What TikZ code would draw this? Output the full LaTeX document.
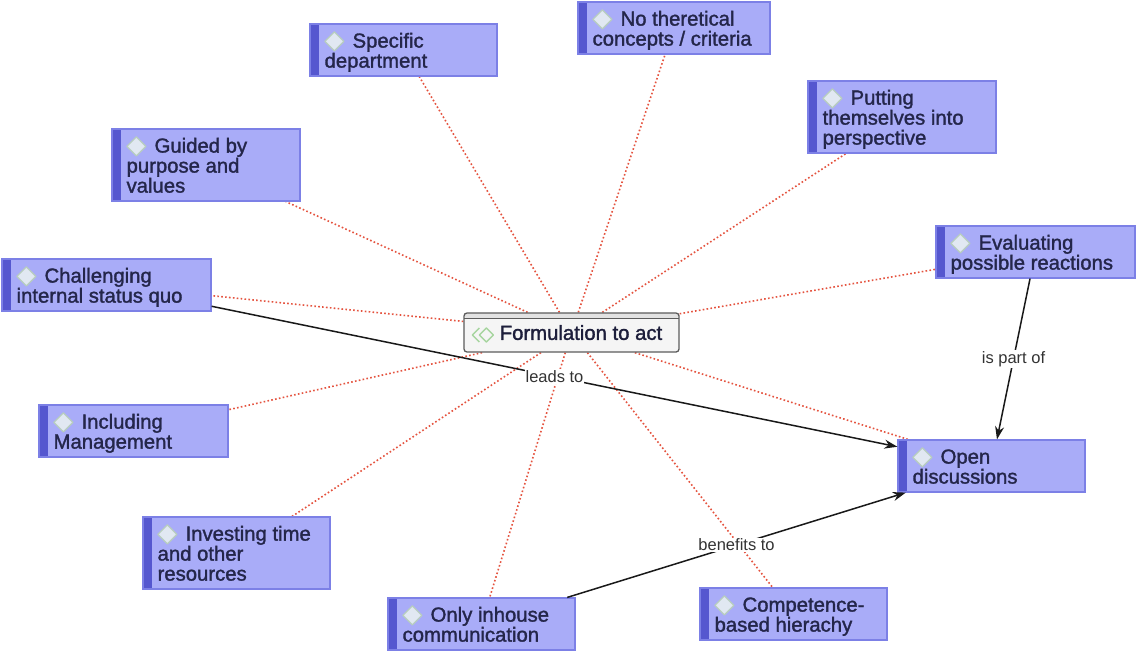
\documentclass[tikz,border=0pt]{standalone}
\usepackage{fontspec}
\setmainfont{Liberation Sans}
\newfontfamily\boxfont{Liberation Sans}[FakeBold=1.5]
\usetikzlibrary{arrows.meta,backgrounds}

\definecolor{boxfill}{HTML}{A9ACF8}
\definecolor{boxline}{HTML}{7C80E6}
\definecolor{boxstrip}{HTML}{5557CF}
\definecolor{boxtext}{HTML}{24264A}
\definecolor{dotred}{HTML}{E5533F}
\definecolor{iconfill}{HTML}{E1E8F2}
\definecolor{iconline}{HTML}{B7CDBF}
\definecolor{headfill}{HTML}{F5F5F5}
\definecolor{headbar}{HTML}{E2E2E2}
\definecolor{headline}{HTML}{5C5C5C}
\definecolor{chevron}{HTML}{A7D59F}
\definecolor{linkgray}{HTML}{333333}

\tikzset{
  concept/.style={draw=boxline, fill=boxfill, line width=1.2pt, inner sep=0pt,
    path picture={
      \fill[boxstrip] (path picture bounding box.north west)
        rectangle ([xshift=9pt]path picture bounding box.south west);
    }},
  conceptmark/.style={draw=iconline, fill=iconfill, line width=1.2pt, line join=round},
  conceptlabel/.style={font=\boxfont\fontsize{20.3}{20}\selectfont, text=boxtext,
    align=left, inner sep=0pt},
  header/.style={draw=headline, fill=headfill, line width=1.3pt, rounded corners=3pt,
    minimum width=215pt, minimum height=39pt, inner sep=0pt, text depth=0pt,
    font=\boxfont\fontsize{20.3}{20}\selectfont, text=boxtext!80!black,
    path picture={
      \fill[headbar] (path picture bounding box.north west)
        rectangle ([yshift=-5pt]path picture bounding box.north east);
      \draw[headline, line width=1pt] ([yshift=-5pt]path picture bounding box.north west)
        -- ([yshift=-5pt]path picture bounding box.north east);
    }},
  headmark/.style={draw=chevron, line width=1.5pt, line join=round},
  relation/.style={draw=dotred, line width=1.6pt, dash pattern=on 1.6pt off 2.3pt},
  link/.style={draw=black!90, line width=1.5pt, -{Stealth[length=13pt,width=9pt]}},
  linklabel/.style={fill=white, inner sep=1pt, text=linkgray,
    font=\fontsize{16.5}{18}\selectfont}
}

% concept box: name, centre x, centre y, width, height, text
\newcommand\mkconcept[6]{%
  \node[concept, minimum width=#4pt, minimum height=#5pt] (#1) at (#2,#3) {};
  \coordinate (#1-mark) at ([xshift=25pt,yshift=-18pt]#1.north west);
  \draw[conceptmark] (#1-mark) +(-9.5,0) -- +(0,-9.5) -- +(9.5,0) -- +(0,9.5) -- cycle;
  \node[conceptlabel, anchor=north west] (#1-text)
    at ([xshift=15pt,yshift=-8pt]#1.north west) {\rule{0pt}{16pt}\hspace*{28pt}#6};
}

\begin{document}
\begin{tikzpicture}[x=1pt,y=-1pt]
\useasboundingbox (0,0) rectangle (1136,653);

% central topic
\node[header] (form) at (571.5,332.5) {\hspace*{19pt}Formulation to act};
\coordinate (form-mark) at ([xshift=23pt,yshift=-2.5pt]form.west);
\draw[headmark] (form-mark) +(-7,0) -- +(0,-7) -- +(7,0) -- +(0,7) -- cycle;
\draw[headmark] (form-mark) +(-7,-7) -- +(-14,0) -- +(-7,7);

\mkconcept{spec}{403.5}{50}{187}{52}{Specific\\department}
\mkconcept{noth}{674}{28}{192}{52}{No theretical\\concepts / criteria}
\mkconcept{putt}{902}{117}{188}{72}{Putting\\themselves into\\perspective}
\mkconcept{guid}{206}{165}{188}{72}{Guided by\\purpose and\\values}
\mkconcept{eval}{1035.5}{252}{199}{52}{Evaluating\\possible reactions}
\mkconcept{chal}{106.5}{285}{209}{52}{Challenging\\internal status quo}
\mkconcept{incl}{133.5}{431}{189}{52}{Including\\Management}
\mkconcept{open}{991.5}{466}{187}{52}{Open\\discussions}
\mkconcept{inve}{236.5}{553}{187}{72}{Investing time\\and other\\resources}
\mkconcept{only}{481.5}{624}{187}{52}{Only inhouse\\communication}
\mkconcept{comp}{793.5}{614}{187}{52}{Competence-\\based hierachy}

% dotted relations behind the boxes
\begin{scope}[on background layer]
  \fill[white] (0,0) rectangle (1136,653);
  \foreach \c in {spec,noth,putt,guid,eval,chal,incl,open,inve,only,comp}
    \draw[relation] (form) -- (\c);
\end{scope}

% named links
\draw[link] (chal) -- node[linklabel] (leads) {leads to} (open);
\draw[link] (eval) -- node[linklabel] (partof) {is part of} (open);
\draw[link] (only) -- node[linklabel] (benefits) {benefits to} (open);
\end{tikzpicture}
\end{document}
